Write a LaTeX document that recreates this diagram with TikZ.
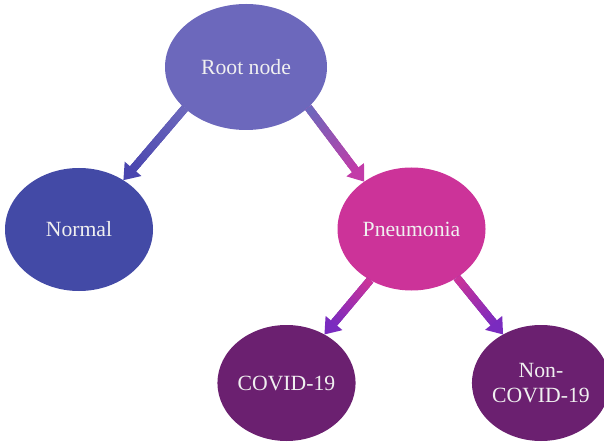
\documentclass[tikz,border=0pt]{standalone}
\usepackage{fontspec}
\setmainfont{Liberation Serif}
\usetikzlibrary{arrows.meta,calc,shapes.geometric}
\definecolor{rootcol}{HTML}{6C68BC}
\definecolor{normalcol}{HTML}{434AA6}
\definecolor{pneucol}{HTML}{CC3399}
\definecolor{covcol}{HTML}{6B2070}
\definecolor{bluetip}{HTML}{4A46AF}
\definecolor{magtip}{HTML}{C23BA8}
\definecolor{purptip}{HTML}{7A2BBF}
\tikzstyle{vertex}=[ellipse,inner sep=0pt,outer sep=0pt,text=white!94!black,font=\fontsize{21.7}{25}\selectfont,align=center]
\tikzstyle{middlevertex}=[vertex,minimum width=148pt,minimum height=123pt]
\tikzstyle{leafvertex}=[vertex,minimum width=135pt,minimum height=116pt]
\tikzstyle{arrowline}=[line width=8pt]

% gradient block arrow: from, to, start colour, end colour
\newcommand{\gradarrow}[4]{%
  \draw[arrowline,color=#4,-{Triangle[width=21pt,length=15pt]}] (#1) -- (#2);
  \coordinate (headbase) at ($(#2)!15pt!(#1)$);
  \foreach \i in {0,...,19}{
    \pgfmathsetmacro\j{min(\i+1.4,20)}
    \pgfmathtruncatemacro\mix{100-5*\i}
    \draw[arrowline,color=#3!\mix!#4] ($(#1)!\i/20!(headbase)$) -- ($(#1)!\j/20!(headbase)$);
  }%
}

\begin{document}
\begin{tikzpicture}[x=1pt,y=-1pt]
  \useasboundingbox (0,0) rectangle (604,443);

  \node[vertex,fill=rootcol,minimum width=162pt,minimum height=126pt] (root) at (246,67) {Root node};

  \foreach \pos/\name/\col/\txt in {{(79,229.5)/normal/normalcol/Normal}, {(411.5,229)/pneu/pneucol/Pneumonia}}
    \node[middlevertex,fill=\col] (\name) at \pos {\txt};

  \foreach \pos/\name/\txt in {{(286.5,383)/covid/COVID-19}, {(541,383)/noncovid/Non-\\COVID-19}}
    \node[leafvertex,fill=covcol] (\name) at \pos {\txt};

%arrows
  \gradarrow{root.214}{normal.48}{rootcol}{bluetip}
  \gradarrow{root.327}{pneu.135}{rootcol}{magtip}
  \gradarrow{pneu.231}{covid.52}{pneucol}{purptip}
  \gradarrow{pneu.313}{noncovid.128}{pneucol}{purptip}

\end{tikzpicture}
\end{document}
